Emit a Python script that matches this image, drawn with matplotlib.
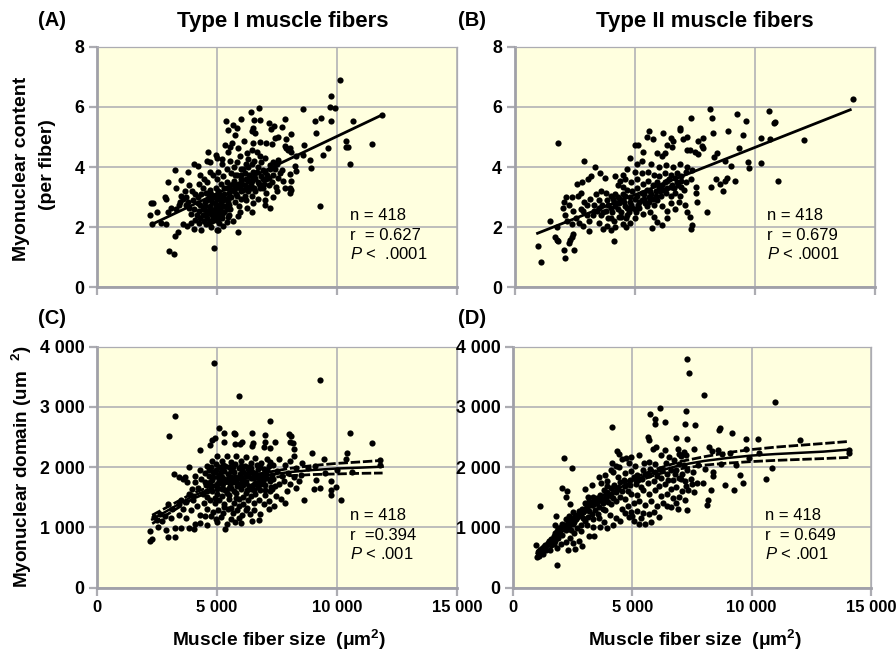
import numpy as np
import matplotlib
matplotlib.use("Agg")
import matplotlib.pyplot as plt

plt.rcParams['font.family'] = ['Liberation Sans', 'DejaVu Sans']
plt.rcParams['mathtext.fontset'] = 'custom'
plt.rcParams['mathtext.rm'] = 'Liberation Sans'
plt.rcParams['mathtext.bf'] = 'Liberation Sans:bold'
plt.rcParams['mathtext.it'] = 'Liberation Sans:italic'

# points: (fiber size in thousands um2, y value)
points_a = [
    (10.14,6.9),(9.75,6.36),(9.7,5.98),(9.9,5.95),(11.88,5.73),(8.59,5.92),(6.76,5.96),(6.41,5.81),(6.02,5.6),(5.36,5.52),
    (9.32,5.63),(9.07,5.53),(9.75,5.52),(10.66,5.53),(7.85,5.6),(6.55,5.55),(6.79,5.55),(7.15,5.45),(7.38,5.37),(7.69,5.33),
    (7.24,5.25),(9.14,5.14),(8.09,5.11),(10.39,4.85),(11.47,4.77),(10.39,4.68),(10.46,4.65),(10.55,4.09),(9.61,4.62),(9.42,4.41),
    (8.63,4.72),(9.28,2.71),(5.87,1.85),(4.87,1.31),(3.0,1.2),(3.21,1.12),(3.24,1.7),(3.38,1.85),(2.26,2.81),(2.32,2.81),
    (2.19,2.41),(2.52,2.51),(2.31,2.11),(2.67,2.13),(2.88,2.11),(2.94,2.51),(2.85,3.02),(2.88,2.95),(3.25,3.9),(2.94,3.5),
    (3.28,3.3),(3.49,3.56),(3.81,3.84),(4.04,4.1),(4.22,4.02),(4.64,4.5),(4.57,4.19),(4.96,4.41),(5.0,4.3),(4.7,4.15),
    (5.68,5.4),(5.82,5.29),(5.47,5.23),(5.75,5.07),(5.61,4.79),(5.33,4.73),(5.54,4.68),(6.14,4.85),(6.51,5.29),(6.44,5.18),
    (6.58,5.12),(6.51,4.79),(6.79,4.82),(7.06,4.79),(7.31,4.77),(7.41,4.96),(7.55,4.98),(7.89,4.93),(7.83,4.7),(7.89,4.62),
    (8.03,4.62),(8.1,4.51),(7.96,4.57),(5.47,4.51),(5.89,4.62),(6.44,4.57),(6.65,4.51),(6.79,4.35),(6.23,4.46),(8.31,4.35),
    (8.59,4.4),(8.86,4.24),(8.93,3.98),(8.24,4.02),(8.31,3.88),(8.03,3.77),(8.1,3.52),(8.03,3.3),(8.1,3.24),(8.03,3.13),
    (7.76,3.52),(7.62,3.79),(7.34,4.18),(7.2,4.07),(7.55,4.24),(7.34,3.02),(6.99,2.91),(6.99,2.74),(7.2,2.65),(6.51,2.8),
    (6.47,2.5),(6.23,2.63),(5.96,2.52),(5.89,2.36),(5.68,2.21),(5.4,2.16),(5.26,2.05),(4.98,1.92),(4.77,2.0),(5.05,1.9),
    (3.45,2.85),(3.6,2.95),(3.3,2.6),(3.7,2.75),(3.85,2.65),(4.0,2.9),(4.1,3.1),(3.95,3.2),(3.6,2.1),(3.75,2.05),
    (3.9,2.15),(4.05,1.95),(4.25,2.15),(4.35,1.9),(4.4,2.4),(4.6,2.3),(4.25,2.55),(4.3,2.75),(4.45,2.6),(4.5,2.85),
    (4.6,2.55),(4.7,2.7),(4.75,2.45),(4.85,2.35),(4.9,2.6),(5.0,2.4),(5.05,2.75),(5.15,2.55),(5.2,2.3),(4.8,2.85),
    (4.65,3.0),(4.55,3.15),(4.4,3.3),(4.25,3.45),(4.45,3.6),(4.3,3.75),(4.6,3.5),(4.7,3.25),(4.9,3.05),(5.0,2.95),
    (5.1,3.1),(5.25,2.9),(5.35,2.7),(5.45,2.85),(5.55,2.6),(5.6,3.0),(5.75,2.85),(5.85,3.05),(5.7,3.2),(5.5,3.15),
    (5.3,3.3),(5.15,3.45),(5.0,3.6),(4.85,3.75),(4.7,3.85),(5.05,3.85),(5.25,3.7),(5.4,3.5),(5.55,3.4),(5.7,3.55),
    (5.85,3.35),(6.0,3.2),(6.15,3.05),(6.3,3.2),(6.45,3.05),(6.6,3.2),(6.15,3.4),(6.3,3.55),(6.0,3.6),(5.85,3.75),
    (5.6,3.8),(5.4,3.95),(5.7,4.0),(5.55,4.2),(5.85,4.15),(6.0,3.95),(6.15,3.8),(6.3,4.0),(6.5,3.85),(6.45,3.55),
    (6.6,3.65),(6.75,3.45),(6.9,3.3),(7.05,3.15),(7.15,3.4),(6.85,3.7),(7.0,3.85),(7.15,3.65),(7.3,3.5),(7.45,3.35),
    (6.7,4.0),(6.55,4.2),(6.3,4.25),(6.85,4.15),(7.0,4.3),(5.95,4.35),(5.2,4.1),(5.2,4.25),(7.55,3.65),(7.7,3.9),
    (4.15,2.4),(4.55,2.1),(5.1,2.15),(3.5,3.05),(3.65,3.2),(3.85,3.4),(3.4,2.75),(3.1,2.65),(6.2,2.9),(5.9,2.7),
    (6.7,2.95),(7.5,3.2),(7.85,3.3),(4.95,3.3),(4.2,3.0),(5.5,2.4),(6.0,2.95),(3.9,2.45),(4.1,2.25),(4.75,2.2),
]
# the black middle of the cloud in panel A
dense_a = [
    (4.45,2.2),(4.55,2.45),(4.65,2.15),(4.7,2.6),(4.8,2.2),(4.85,2.5),(4.9,2.8),(4.95,2.25),(5.0,2.55),(5.05,2.3),
    (5.1,2.6),(5.15,2.85),(5.2,2.45),(5.25,2.7),(5.3,2.5),(5.35,2.95),(5.4,2.6),(5.45,2.35),(5.5,2.75),(5.55,3.0),
    (4.4,2.6),(4.5,2.7),(4.6,2.9),(4.75,3.1),(4.85,3.0),(4.95,2.7),(5.05,3.2),(5.15,3.0),(5.3,3.1),(5.4,3.3),
    (5.5,3.0),(5.6,3.25),(5.65,3.45),(5.75,3.3),(5.8,3.1),(5.9,3.45),(5.95,3.3),(6.05,3.45),(6.1,3.25),(6.2,3.6),
    (6.25,3.35),(6.35,3.75),(6.4,3.4),(6.5,3.6),(6.55,3.3),(6.65,3.85),(6.7,3.5),(6.8,3.3),(6.9,3.6),(6.95,3.45),
    (7.05,3.6),(7.1,3.75),(7.2,3.95),(4.7,2.95),(4.2,2.8),(4.3,2.3),(4.35,3.1),(4.05,2.6),(3.8,2.85),(3.7,3.0),
    (6.0,3.75),(6.2,4.1),(6.1,3.95),(5.75,3.75),(6.45,4.1),(7.35,3.75),(7.4,3.95),(7.5,4.1),(6.9,3.9),(6.4,3.3),
]
points_b = [
    (14.09,6.27),(8.13,5.92),(10.6,5.87),(9.29,5.76),(8.21,5.62),(7.34,5.64),(9.64,5.52),(10.85,5.48),(10.82,5.45),(1.83,4.81),
    (5.62,5.21),(5.51,5.01),(5.78,4.93),(6.2,5.12),(6.89,5.3),(6.89,5.23),(8.9,5.21),(8.28,5.12),(9.5,5.07),(10.29,4.97),
    (10.64,4.92),(12.05,4.9),(7.03,4.93),(7.17,5.01),(6.5,4.96),(6.62,4.85),(7.86,4.96),(7.66,4.87),(7.8,4.7),(6.34,4.74),
    (6.55,4.65),(5.02,4.73),(5.16,4.73),(5.34,4.51),(5.92,4.46),(6.13,4.35),(6.27,4.46),(7.17,4.55),(7.31,4.55),(7.52,4.51),
    (7.66,4.43),(7.86,4.62),(8.42,4.48),(8.32,4.33),(9.35,4.62),(2.91,4.19),(3.36,4.0),(4.81,4.3),(9.74,4.16),(9.76,3.96),
    (10.25,4.13),(10.98,3.55),(9.04,4.04),(8.77,4.21),(8.0,2.5),(7.34,1.94),(7.38,2.06),(4.15,1.56),(0.96,1.38),(1.12,0.83),
    (2.11,0.98),(2.05,1.25),(2.47,1.24),(1.48,2.2),(1.76,2.0),(1.69,1.69),(1.76,1.58),(1.83,1.53),(2.25,1.47),(2.32,1.58),
    (2.39,1.69),(2.45,1.78),(3.11,1.86),(5.72,1.98),(5.93,2.18),(6.13,2.08),(6.34,2.32),(5.8,2.35),(7.2,2.5),(7.3,2.35),
    (7.1,2.75),(7.6,2.85),(7.55,3.15),(8.2,3.35),(8.4,3.6),(8.7,3.2),(8.75,3.55),(8.85,3.65),(9.2,3.55),(8.55,3.45),
    (2.0,2.65),(2.05,2.85),(2.15,3.0),(2.25,2.75),(2.1,2.4),(2.2,2.2),(2.45,2.55),(2.55,2.3),(2.4,2.1),(2.7,2.15),
    (2.85,2.05),(3.0,2.4),(2.75,2.6),(2.9,2.85),(2.65,3.05),(2.4,3.0),(2.75,3.15),(2.6,3.45),(2.8,3.5),(3.05,3.6),
    (3.2,3.7),(3.55,3.8),(3.75,3.65),(4.2,3.7),(4.5,3.75),(4.7,3.95),(5.0,3.85),(5.3,4.2),(5.1,4.1),(4.4,3.55),
    (3.15,2.95),(3.3,2.75),(3.45,2.55),(3.25,2.4),(3.1,2.2),(3.5,2.15),(3.7,1.95),(3.85,2.05),(4.0,1.9),(4.2,2.0),
    (3.6,2.4),(3.8,2.55),(4.0,2.3),(4.15,2.2),(4.35,2.35),(4.5,2.1),(4.65,2.0),(4.8,2.15),(5.0,2.3),(4.65,2.3),
    (3.5,2.9),(3.65,2.75),(3.85,2.9),(4.0,2.65),(4.15,2.85),(4.3,2.6),(4.45,2.5),(4.6,2.7),(4.75,2.5),(4.9,2.65),
    (5.05,2.5),(5.2,2.65),(5.35,2.45),(5.5,2.7),(5.65,2.5),(3.4,3.1),(3.6,3.2),(3.8,3.15),(4.0,3.05),(4.2,3.1),
    (4.4,2.95),(4.6,3.05),(4.8,2.85),(5.0,2.95),(5.2,2.85),(5.4,2.95),(5.6,2.85),(5.8,2.75),(5.95,2.9),(6.15,2.7),
    (6.35,2.55),(6.5,2.8),(6.7,2.6),(6.85,2.85),(4.5,3.35),(4.7,3.25),(4.9,3.2),(5.1,3.3),(5.3,3.15),(5.5,3.25),
    (5.7,3.1),(5.9,3.2),(6.1,3.05),(6.3,3.15),(6.5,3.05),(6.7,3.15),(6.9,3.05),(7.05,3.25),(4.3,3.4),(4.6,3.6),
    (4.85,3.5),(5.1,3.6),(5.35,3.45),(5.55,3.55),(5.75,3.4),(5.95,3.5),(6.15,3.4),(6.35,3.55),(6.55,3.4),(6.75,3.5),
    (6.95,3.35),(7.15,3.5),(7.35,3.6),(5.3,3.8),(5.55,3.85),(5.8,3.75),(6.0,3.7),(6.25,3.8),(6.5,3.75),(6.75,3.8),
    (6.95,3.7),(7.15,3.85),(7.4,3.9),(6.0,4.0),(6.3,4.05),(6.6,4.0),(6.9,4.1),(7.2,4.0),(5.7,4.1),(7.55,3.35),
]
dense_b = [
    (3.7,2.5),(3.9,2.75),(4.05,2.5),(4.2,2.7),(4.35,2.8),(4.45,2.35),(4.55,2.85),(4.7,2.65),(4.85,2.75),(5.0,2.6),
    (5.15,2.75),(5.3,2.9),(5.45,2.8),(5.6,3.0),(5.75,2.95),(5.9,3.05),(6.05,3.2),(6.2,3.25),(6.35,3.3),(6.5,3.35),
    (6.65,3.3),(6.8,3.4),(6.95,3.55),(3.3,2.55),(3.5,2.65),(3.0,2.75),(2.85,2.55),(4.1,2.95),(4.3,3.0),(4.5,3.1),
    (4.8,3.0),(5.1,3.05),(5.4,3.1),(5.65,3.2),(6.0,3.35),(6.25,3.5),(6.45,3.6),(6.7,3.65),(3.9,2.3),(4.7,2.4),
]
points_c = [
    (4.87,3720),(9.3,3440),(5.9,3180),(3.23,2840),(3.0,2510),(7.22,2760),(10.55,2560),(11.45,2400),(5.1,2650),(5.3,2560),
    (5.7,2560),(5.75,2540),(6.45,2570),(7.0,2530),(8.0,2540),(8.1,2510),(8.05,2420),(8.15,2400),(4.9,2480),(4.8,2440),
    (4.7,2360),(5.3,2420),(5.75,2380),(5.95,2390),(6.05,2410),(6.5,2400),(6.45,2350),(7.0,2420),(6.95,2340),(7.2,2310),
    (7.4,2420),(8.2,2300),(4.3,2290),(3.2,1890),(3.4,1830),(3.6,1800),(3.75,1750),(3.65,1830),(4.1,1750),(3.85,2000),
    (2.22,780),(2.28,800),(2.2,930),(2.54,1000),(2.89,960),(2.96,840),(3.27,840),(3.27,990),(3.52,990),(3.84,990),
    (4.03,975),(4.1,1060),(4.31,1075),(4.59,1030),(4.98,1085),(5.35,975),(5.42,1060),(5.77,1085),(5.98,1070),(6.44,1100),
    (6.74,1125),(6.81,1225),(6.39,1225),(6.53,1280),(7.16,1310),(7.37,1360),(7.83,1410),(7.65,1470),(8.62,1445),(10.15,1460),
    (9.73,1530),(9.73,1610),(9.94,1670),(9.76,1770),(9.31,1650),(9.06,1630),(9.13,1780),(8.2,2180),(8.97,2240),(9.45,2140),
    (10.42,2230),(10.36,2140),(10.63,1920),(11.8,2110),(11.8,2030),(2.36,1170),(2.64,1225),(2.95,1380),(3.13,1310),(3.4,1390),
    (3.4,1200),(3.6,1300),(3.7,1150),(3.9,1280),(4.0,1450),(3.85,1550),(4.2,1650),(4.15,1350),(4.3,1200),(4.5,1180),
    (4.45,1400),(4.6,1300),(4.75,1180),(4.4,1550),(4.55,1700),(4.35,1800),(4.5,1900),(4.65,1850),(4.3,1950),(4.6,2020),
    (4.8,2100),(5.0,2180),(5.2,2100),(5.4,2180),(5.6,2080),(5.8,2180),(6.0,2100),(6.2,2170),(6.4,2060),(6.6,2150),
    (6.85,2060),(7.1,2130),(7.35,2040),(7.6,2130),(7.85,2030),(8.05,2100),(8.3,1990),(8.55,2060),(8.8,1990),(9.1,2020),
    (4.75,2000),(4.9,1920),(5.1,2000),(5.3,1930),(5.5,2000),(5.7,1920),(5.9,1990),(6.1,1910),(6.3,1970),(6.5,1900),
    (6.7,1960),(6.9,1880),(7.1,1950),(7.3,1870),(7.5,1930),(7.7,1850),(7.95,1900),(8.2,1830),(8.4,1760),(8.3,1650),
    (8.05,1720),(7.9,1600),(4.7,1750),(4.85,1830),(5.0,1720),(5.2,1830),(5.4,1760),(5.6,1840),(5.8,1760),(6.0,1840),
    (6.2,1740),(6.4,1810),(6.6,1730),(6.8,1790),(7.0,1700),(7.2,1770),(7.4,1690),(7.6,1720),(7.8,1760),(4.8,1600),
    (5.0,1560),(5.2,1640),(5.4,1570),(5.6,1650),(5.8,1570),(6.0,1640),(6.2,1570),(6.4,1630),(6.6,1560),(6.8,1620),
    (7.0,1530),(7.2,1600),(7.45,1520),(4.7,1450),(4.9,1400),(5.1,1450),(5.3,1390),(5.5,1470),(5.7,1400),(5.9,1470),
    (6.1,1390),(6.3,1450),(6.55,1400),(6.75,1450),(6.95,1380),(7.15,1440),(4.85,1250),(5.05,1290),(5.25,1230),(5.45,1300),
    (5.65,1230),(5.85,1290),(6.05,1210),(6.25,1320),(4.95,1130),(5.15,1170),(5.6,1130),(5.9,1160),(3.1,1150),(3.5,1450),
    (3.7,1420),(3.95,1630),(2.7,1100),(2.85,1180),(2.5,1120),(4.1,1850),(4.0,1520),(8.5,1870),(9.5,1900),(10.0,1950),
]
dense_c = [
    (4.5,1750),(4.6,1600),(4.75,1680),(4.85,1920),(4.95,2050),(5.05,1830),(5.15,1920),(5.25,1730),(5.35,2020),(5.45,1880),
    (5.55,1720),(5.65,2000),(5.75,1830),(5.85,1690),(5.95,1880),(6.05,1770),(6.15,2020),(6.25,1850),(6.35,1680),(6.45,1920),
    (6.55,1830),(6.65,2040),(6.75,1860),(6.85,1710),(6.95,1960),(7.05,1820),(7.15,2020),(7.25,1670),(7.35,1800),(5.0,1640),
    (5.1,1760),(5.3,1800),(5.5,1650),(5.7,1770),(5.9,1830),(6.1,1700),(6.3,1880),(6.5,1700),(6.7,1840),(6.9,1770),
    (4.9,1480),(5.2,1520),(5.5,1530),(5.8,1490),(6.1,1500),(6.4,1520),(6.7,1660),(7.0,1620),(7.3,1640),(5.2,1960),
    (5.6,1940),(6.0,2020),(6.4,1980),(6.8,2000),(7.2,2080),(5.3,1330),(5.6,1320),(5.9,1360),(6.2,1290),(4.6,1500),
    (4.95,1950),(5.25,2040),(5.45,1800),(5.75,2050),(6.05,1950),(6.35,2000),(6.6,1900),(4.8,1780),(5.35,1620),(5.7,1600),
    (6.25,1620),(6.55,1620),(4.65,1950),(5.95,1720),(6.75,1750),(7.05,1890),(5.1,1870),(5.5,1800),(6.2,1890),(6.85,1830),
]
points_d = [
    (7.31,3800),(7.37,3560),(8.02,3200),(10.98,3085),(6.17,2980),(7.26,2930),(5.74,2875),(5.93,2800),(5.96,2720),(6.35,2750),
    (7.22,2720),(7.61,2700),(4.15,2665),(8.69,2650),(8.65,2610),(9.18,2565),(5.66,2500),(5.7,2440),(6.84,2480),(7.3,2470),
    (9.76,2465),(10.25,2470),(12.03,2450),(1.13,1345),(2.12,2155),(2.47,1990),(2.06,1655),(2.28,1600),(2.24,1500),(2.38,1390),
    (1.82,1180),(1.76,1030),(1.84,380),(0.96,700),(1.02,505),(1.05,590),(14.08,2230),(14.08,2280),(10.85,1985),(10.6,1795),
    (9.63,1740),(9.28,1610),(8.9,1705),(9.5,1870),(9.35,2030),(8.72,2045),(8.37,1915),(8.4,1850),(8.3,1610),(8.19,1455),
    (8.12,1365),(7.3,1290),(6.9,1300),(6.45,1350),(6.1,1170),(5.8,1080),(5.55,1060),(5.3,1060),(5.05,1100),(4.85,1170),
    (3.2,860),(3.4,850),(2.85,930),(2.5,740),(2.75,770),(2.9,690),(6.9,2300),(6.95,2220),(7.05,2190),(7.15,2250),
    (7.25,2200),(7.6,2300),(8.2,2340),(8.35,2260),(8.6,2290),(8.75,2220),(9.1,2230),(9.75,2300),(10.3,2240),(9.9,2150),
    (1.15,620),(1.3,650),(1.45,720),(1.6,810),(1.75,900),(1.9,980),(2.05,1060),(2.2,1130),(2.35,1190),(2.5,1250),
    (1.35,700),(1.6,700),(1.75,780),(1.9,820),(2.05,870),(2.2,950),(2.35,1020),(2.5,1060),(2.65,1140),(2.8,1200),
    (2.95,1250),(3.1,1310),(3.25,1370),(3.4,1430),(2.0,720),(2.2,760),(2.4,820),(2.55,900),(2.7,980),(2.85,1040),
    (3.0,1110),(3.15,1170),(3.3,1220),(3.45,1280),(3.6,1340),(3.75,1410),(3.9,1470),(4.05,1530),(2.3,620),(2.6,640),
    (2.45,950),(3.0,1400),(3.15,1500),(3.0,1640),(3.3,1700),(3.6,1840),(3.85,1860),(3.7,1730),(3.95,1760),(4.1,1950),
    (4.2,1920),(4.3,2020),(4.15,2070),(4.45,2000),(4.35,2260),(4.45,2210),(4.55,2130),(4.75,2150),(4.95,2170),(5.3,2200),
    (5.5,2070),(5.85,2300),(6.0,2330),(6.2,2200),(6.35,2290),(6.55,2170),(6.75,2120),(6.95,2050),(7.15,2030),(4.85,2060),
    (5.1,2020),(5.7,2080),(5.95,2050),(6.15,1970),(6.4,2060),(6.6,1950),(6.85,1950),(7.1,1880),(7.3,1950),(7.55,1910),
    (7.75,2040),(8.05,1960),(4.7,1900),(4.95,1930),(5.2,1870),(5.45,1950),(5.7,1860),(5.95,1920),(6.2,1820),(6.45,1890),
    (6.7,1780),(6.95,1820),(7.2,1760),(7.45,1800),(7.7,1740),(7.95,1730),(3.9,1580),(4.1,1650),(4.3,1580),(4.5,1750),
    (4.7,1680),(4.9,1790),(5.15,1720),(5.4,1800),(5.65,1730),(5.9,1760),(6.1,1680),(6.35,1720),(6.6,1640),(6.85,1660),
    (7.1,1600),(7.35,1620),(7.6,1580),(3.6,1160),(3.85,1280),(4.1,1380),(4.3,1440),(4.5,1510),(4.7,1470),(4.95,1560),
    (5.2,1530),(5.45,1610),(5.7,1560),(5.95,1610),(6.2,1520),(6.45,1560),(6.7,1480),(6.95,1500),(7.2,1450),(3.8,1090),
    (4.05,1200),(4.3,1150),(4.55,1300),(4.8,1360),(5.05,1400),(5.3,1440),(5.55,1370),(5.8,1430),(6.05,1360),(6.3,1400),
    (6.6,1330),(6.85,1400),(4.5,1100),(4.7,1240),(4.95,1260),(5.2,1270),(5.45,1230),(5.7,1220),(5.9,1260),(4.2,1030),
    (3.95,980),(3.65,1000),(3.35,1000),(3.1,1030),(5.0,1180),(5.35,1150),(1.25,560),(1.1,520),(1.55,620),(1.85,650),
]
dense_d = [
    (1.5,780),(1.7,850),(1.85,930),(2.0,1000),(2.15,1040),(2.3,1100),(2.45,1150),(2.6,1200),(2.75,1270),(2.9,1310),
    (3.05,1380),(3.2,1440),(3.35,1510),(3.5,1480),(3.65,1540),(3.8,1620),(3.95,1680),(4.1,1520),(4.25,1700),(4.4,1840),
    (4.55,1600),(4.65,1780),(4.8,1600),(4.9,1700),(5.05,1840),(5.25,1780),(5.35,1660),(5.55,1880),(5.75,1960),(6.05,1850),
    (6.25,1950),(6.5,1780),(6.8,1880),(7.05,1800),(7.25,1690),(7.5,1720),(3.35,1130),(3.55,1220),(3.75,1300),(4.0,1420),
    (4.2,1480),(4.4,1640),(2.2,1040),(2.55,1090),(2.95,1150),(3.2,1270),(3.5,1400),(3.65,1450),(1.4,620),(1.7,720),
]

# fit lines
fit_a_x = [2.35, 11.88]
fit_a_y = [2.12, 5.73]
fit_b_x = [0.96, 13.99]
fit_b_y = [1.80, 5.90]

curve_c_x = [2.3, 3.0, 4.0, 5.0, 6.0, 7.0, 8.0, 9.0, 10.0, 11.0, 11.9]
curve_c_y = [1130, 1290, 1520, 1680, 1790, 1860, 1915, 1950, 1975, 1990, 2005]
upper_c_y = [1200, 1350, 1565, 1720, 1830, 1905, 1975, 2025, 2060, 2085, 2110]
lower_c_y = [1060, 1230, 1475, 1640, 1750, 1815, 1855, 1875, 1885, 1895, 1900]

curve_d_x = [1.0, 2.0, 3.0, 4.0, 5.0, 6.0, 7.0, 8.0, 9.0, 10.0, 11.0, 12.0, 13.0, 14.1]
curve_d_y = [560, 900, 1270, 1550, 1770, 1920, 2030, 2100, 2150, 2190, 2215, 2235, 2255, 2290]
upper_d_y = [600, 945, 1310, 1590, 1810, 1965, 2090, 2170, 2240, 2290, 2330, 2360, 2390, 2425]
lower_d_y = [520, 855, 1230, 1510, 1730, 1875, 1970, 2030, 2065, 2090, 2110, 2125, 2140, 2160]

GRID = '#acacb2'
BG = '#ffffdf'


def space_fmt(v):
    if v >= 1000:
        return f"{int(v) // 1000} {int(v) % 1000:03d}"
    return str(int(v))


def make_axes(px_left, px_top, px_w, px_h, show_x=True):
    ax = fig.add_axes([px_left / 896, 1 - (px_top + px_h) / 652, px_w / 896, px_h / 652])
    ax.set_facecolor(BG)
    ax.set_xlim(0, 15000)
    ax.set_xticks([0, 5000, 10000, 15000])
    if show_x:
        ax.set_xticklabels([space_fmt(v) for v in ax.get_xticks()], fontweight='bold', fontsize=12)
    else:
        ax.set_xticklabels([])
    ax.grid(color=GRID, lw=1.1)
    ax.set_axisbelow(True)
    ax.tick_params(color=GRID, width=1.6, length=6, pad=3)
    for side in ['right', 'top']:
        ax.spines[side].set_color(GRID)
        ax.spines[side].set_linewidth(0.9)
    for side in ['left', 'bottom']:
        ax.spines[side].set_color('#a0a0a8')
        ax.spines[side].set_linewidth(2.0)
    return ax


def draw_points(ax, *groups):
    pts = np.array(sum(groups, []))
    ax.scatter(pts[:, 0] * 1000, pts[:, 1], s=20, color='black', linewidths=0, zorder=3)


def fig_text(xpx, ypx, s, **kw):
    fig.text(xpx / 896, 1 - ypx / 652, s, **kw)


fig = plt.figure(figsize=(8.96, 6.52), dpi=100)

ax_a = make_axes(97, 46.5, 360, 241, show_x=False)
ax_b = make_axes(514.5, 46.5, 360, 241, show_x=False)
ax_c = make_axes(97, 346.5, 360, 241)
ax_d = make_axes(513, 346.5, 358, 241)

for ax in (ax_a, ax_b):
    ax.set_ylim(0, 8)
    ax.set_yticks([0, 2, 4, 6, 8])
    ax.set_yticklabels(['0', '2', '4', '6', '8'], fontweight='bold', fontsize=12.8)
for ax in (ax_c, ax_d):
    ax.set_ylim(0, 4000)
    ax.set_yticks([0, 1000, 2000, 3000, 4000])
    ax.set_yticklabels([space_fmt(v) for v in ax.get_yticks()], fontweight='bold', fontsize=12.8)

draw_points(ax_a, points_a, dense_a)
draw_points(ax_b, points_b, dense_b)
draw_points(ax_c, points_c, dense_c)
draw_points(ax_d, points_d, dense_d)

ax_a.plot(np.array(fit_a_x) * 1000, fit_a_y, color='black', lw=2, zorder=4)
ax_b.plot(np.array(fit_b_x) * 1000, fit_b_y, color='black', lw=2, zorder=4)

dash = (0, (3.4, 1))
ax_c.plot(np.array(curve_c_x) * 1000, curve_c_y, color='black', lw=1.8, zorder=4)
ax_c.plot(np.array(curve_c_x) * 1000, upper_c_y, color='black', lw=2, ls=dash, zorder=4)
ax_c.plot(np.array(curve_c_x) * 1000, lower_c_y, color='black', lw=2, ls=dash, zorder=4)
ax_d.plot(np.array(curve_d_x) * 1000, curve_d_y, color='black', lw=1.8, zorder=4)
ax_d.plot(np.array(curve_d_x) * 1000, upper_d_y, color='black', lw=2, ls=dash, zorder=4)
ax_d.plot(np.array(curve_d_x) * 1000, lower_d_y, color='black', lw=2, ls=dash, zorder=4)

# panel letters and titles
fig_text(38, 20, '(A)', fontsize=14.5, fontweight='bold', va='center')
fig_text(458, 20, '(B)', fontsize=14.5, fontweight='bold', va='center')
fig_text(38, 319, '(C)', fontsize=14.5, fontweight='bold', va='center')
fig_text(458, 319, '(D)', fontsize=14.5, fontweight='bold', va='center')
fig_text(283, 21, 'Type I muscle fibers', fontsize=16, fontweight='bold', ha='center', va='center')
fig_text(704.5, 21, 'Type II muscle fibers', fontsize=16, fontweight='bold', ha='center', va='center')

# axis labels
fig_text(22, 168.5, 'Myonuclear content', fontsize=14, fontweight='bold', rotation=90, ha='center', va='center')
fig_text(47, 165, '(per fiber)', fontsize=14, fontweight='bold', rotation=90, ha='center', va='center')
fig_text(22, 467, r'Myonuclear domain (um  $\mathbf{^{2}}$)', fontsize=13.6, fontweight='bold', rotation=90,
         ha='center', va='center')
xlabel = r'Muscle fiber size  (μm$\mathbf{^{2}}$)'
fig_text(279, 640, xlabel, fontsize=13.8, fontweight='bold', ha='center', va='center')
fig_text(695, 640, xlabel, fontsize=13.8, fontweight='bold', ha='center', va='center')

# stats text
stat_rows = [
    (350, 216, 'n = 418'), (350, 235, 'r  = 0.627'), (350, 254, r'$\mathit{P}$ <  .0001'),
    (767, 216, 'n = 418'), (767, 235, 'r  = 0.679'), (767, 254, r'$\mathit{P}$ < .0001'),
    (350, 515, 'n = 418'), (350, 535, 'r  =0.394'), (350, 554, r'$\mathit{P}$ < .001'),
    (765, 515, 'n = 418'), (765, 535, 'r  = 0.649'), (765, 554, r'$\mathit{P}$ < .001'),
]
for xp, yp, s in stat_rows:
    fig_text(xp, yp, s, fontsize=12, va='center', zorder=6)

fig.savefig("out.png", dpi=100)
